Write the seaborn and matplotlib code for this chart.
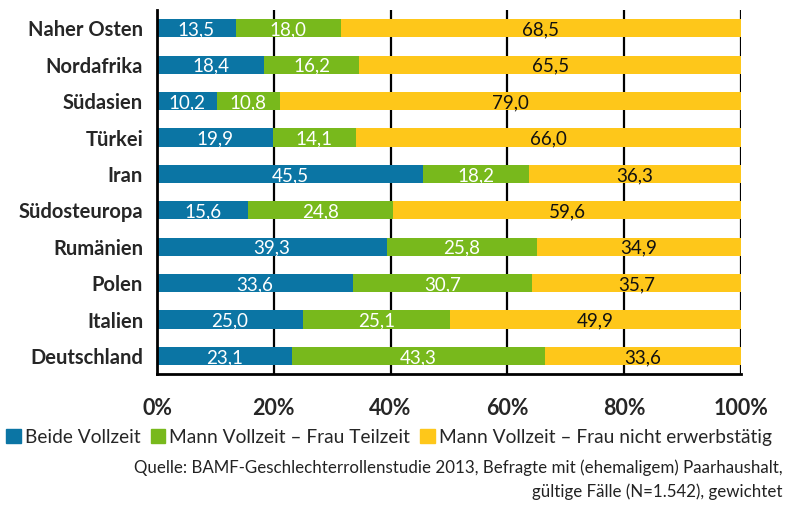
import matplotlib
matplotlib.use("Agg")
import matplotlib.pyplot as plt
import seaborn as sns
import pandas as pd
import numpy as np

categories = ["Naher Osten", "Nordafrika", "Südasien", "Türkei", "Iran",
              "Südosteuropa", "Rumänien", "Polen", "Italien", "Deutschland"]
beide_vollzeit = [13.5, 18.4, 10.2, 19.9, 45.5, 15.6, 39.3, 33.6, 25.0, 23.1]
frau_teilzeit = [18.0, 16.2, 10.8, 14.1, 18.2, 24.8, 25.8, 30.7, 25.1, 43.3]
frau_nicht = [68.5, 65.5, 79.0, 66.0, 36.3, 59.6, 34.9, 35.7, 49.9, 33.6]
series_names = ["Beide Vollzeit", "Mann Vollzeit – Frau Teilzeit",
                "Mann Vollzeit – Frau nicht erwerbstätig"]
x_ticks = [0, 20, 40, 60, 80, 100]

colors = ["#0b75a4", "#78b91c", "#fec71a"]
text_colors = ["white", "white", "#111111"]

sns.set_theme(style="white")
plt.rcParams["font.family"] = ["Lato", "DejaVu Sans"]

df = pd.DataFrame({"Region": categories,
                   series_names[0]: beide_vollzeit,
                   series_names[1]: frau_teilzeit,
                   series_names[2]: frau_nicht})
segs = df[series_names].to_numpy()
cum = np.cumsum(segs, axis=1)

fig = plt.figure(figsize=(7.87, 5.07), dpi=100)
ax = fig.add_axes([0.1995, 0.262, 0.742, 0.718])

# stacked bars: draw cumulative totals from the widest down
for i in range(2, -1, -1):
    sns.barplot(x=cum[:, i], y=df["Region"], orient="h", color=colors[i],
                width=0.5, saturation=1, linewidth=0, ax=ax, zorder=2)

for r in range(len(categories)):
    start = 0.0
    for i in range(3):
        v = segs[r, i]
        ax.text(start + v / 2, r + 0.04, f"{v:.1f}".replace(".", ","),
                ha="center", va="center", fontsize=13.5,
                color=text_colors[i], zorder=3)
        start += v

ax.set_xlim(0, 100)
ax.set_ylim(len(categories) - 0.5, -0.5)
ax.set_xticks(x_ticks)
ax.set_xticklabels([f"{t}%" for t in x_ticks], fontsize=15.5, fontweight="bold")
ax.set_yticks(np.arange(len(categories)))
ax.set_yticklabels(categories, fontsize=14.5, fontweight="bold")
ax.set_xlabel("")
ax.set_ylabel("")

# vertical grid lines behind the bars
for t in x_ticks[1:]:
    ax.axvline(t, color="black", linewidth=1.6, zorder=1)

for s in ["top", "right"]:
    ax.spines[s].set_visible(False)
for s in ["left", "bottom"]:
    ax.spines[s].set_color("black")
    ax.spines[s].set_linewidth(2)
    ax.spines[s].set_zorder(4)

ax.tick_params(axis="y", length=0, pad=10)
ax.tick_params(axis="x", length=6, width=2, color="black", pad=11, direction="out")
# minor ticks on the category axis mark the row boundaries
ax.set_yticks(np.arange(-0.5, len(categories), 1.0), minor=True)
ax.tick_params(axis="y", which="minor", length=5, width=2, color="black")
ax.set_xticks(x_ticks)

handles = [plt.Rectangle((0, 0), 1, 1, color=c) for c in colors]
fig.legend(handles, series_names, loc="center left", bbox_to_anchor=(0.008, 0.138),
           ncol=3, frameon=False, fontsize=13.8, handlelength=0.75, handleheight=0.75,
           handletextpad=0.2, columnspacing=0.55, borderaxespad=0, borderpad=0)

fig.text(0.994, 0.077, "Quelle: BAMF-Geschlechterrollenstudie 2013, Befragte mit (ehemaligem) Paarhaushalt,",
         ha="right", va="center", fontsize=12.2, color="#222222")
fig.text(0.994, 0.030, "gültige Fälle (N=1.542), gewichtet",
         ha="right", va="center", fontsize=12.2, color="#222222")

fig.savefig("out.png", dpi=100)
